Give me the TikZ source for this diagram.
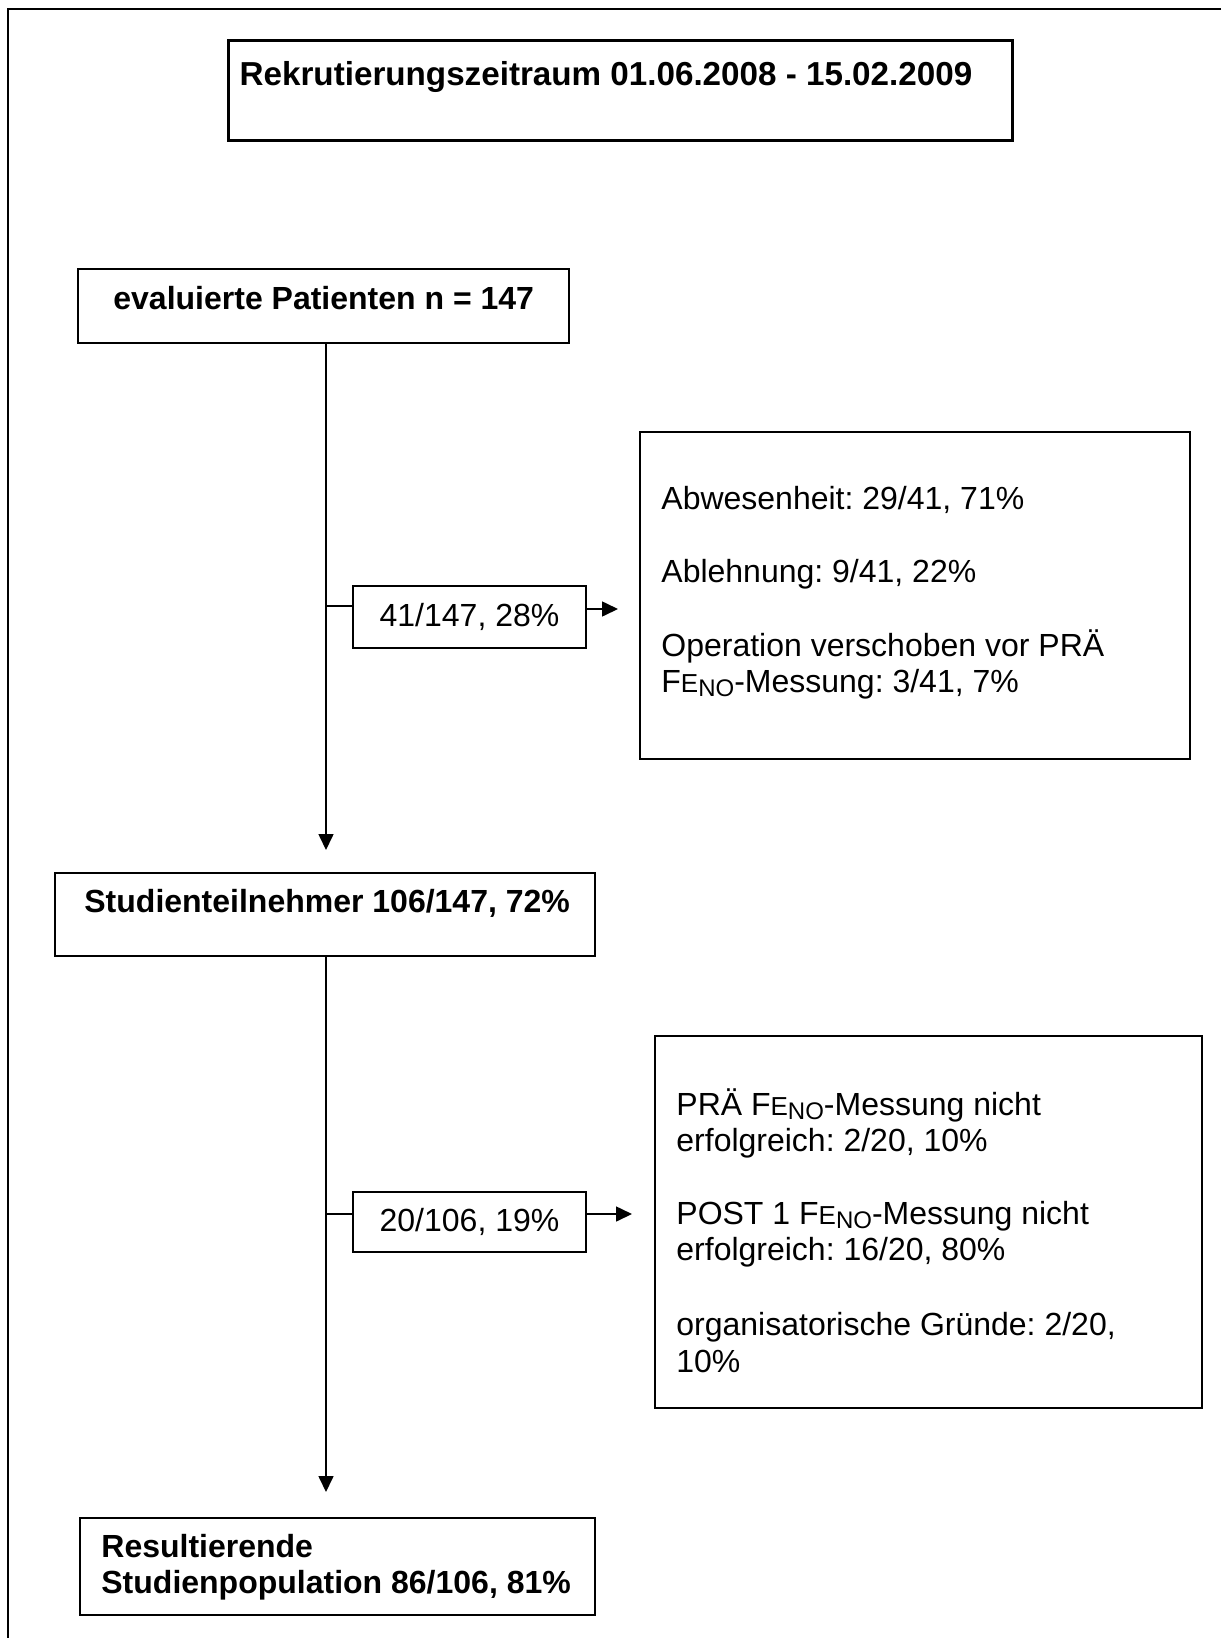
\documentclass[tikz,border=0pt]{standalone}
\usepackage{fontspec}
\setmainfont{Liberation Sans}
\usetikzlibrary{arrows.meta,calc}
\newcommand\feno{F{\fontsize{13}{13}\selectfont E}\raisebox{-2pt}{\fontsize{12}{12}\selectfont NO}}
\frenchspacing
\begin{document}
\begin{tikzpicture}[x=0.5pt,y=-0.5pt,
  box/.style={draw, line width=1pt, inner sep=0pt, rectangle},
  txt/.style={inner sep=0pt, anchor=base west, font=\fontsize{16}{18}\selectfont},
  btxt/.style={inner sep=0pt, anchor=base west, font=\fontsize{16}{18}\selectfont\bfseries},
  conn/.style={line width=0.8pt},
  arr/.style={line width=0.8pt, -{Triangle[length=8pt,width=7.5pt]}}]
\useasboundingbox (0,0) rectangle (1221,1638);
% outer frame (open at right and bottom)
\draw[line width=1pt] (1221,9) -- (8,9) -- (8,1638);
\coordinate (trunk) at (326,0);
% top box
\node[box, line width=1.5pt, minimum width={784*0.5pt}, minimum height={100*0.5pt}] (top) at (620,90) {};
\node[btxt, anchor=base, font=\fontsize{16.6}{18}\selectfont\bfseries] (toptxt) at (606,85) {Rekrutierungszeitraum 01.06.2008 - 15.02.2009};
% evaluated
\node[box, minimum width={491*0.5pt}, minimum height={74*0.5pt}] (eval) at (323.5,306) {};
\node[btxt] (evaltxt) at (113,309) {evaluierte Patienten n = 147};
% branch 1
\node[box, minimum width={233*0.5pt}, minimum height={62*0.5pt}, font=\fontsize{16}{18}\selectfont] (b1) at (469.5,617) {41/147, 28\%};
\node[box, minimum width={550*0.5pt}, minimum height={327*0.5pt}] (r1) at (915,595.5) {};
\node[txt] (r1a) at (661,509) {Abwesenheit: 29/41, 71\%};
\node[txt] (r1b) at (661,582) {Ablehnung: 9/41, 22\%};
\node[txt] (r1c) at (661,656) {Operation verschoben vor PRÄ};
\node[txt] (r1d) at (661,692) {\feno-Messung: 3/41, 7\%};
% participants
\node[box, minimum width={540*0.5pt}, minimum height={83*0.5pt}] (stud) at (325,914.5) {};
\node[btxt] (studtxt) at (84,912) {Studienteilnehmer 106/147, 72\%};
% branch 2
\node[box, minimum width={233*0.5pt}, minimum height={60*0.5pt}, font=\fontsize{16}{18}\selectfont] (b2) at (469.5,1222) {20/106, 19\%};
\node[box, minimum width={547*0.5pt}, minimum height={372*0.5pt}] (r2) at (928.5,1222) {};
\node[txt] (r2a) at (676,1115) {PRÄ \feno-Messung nicht};
\node[txt] (r2b) at (676,1151) {erfolgreich: 2/20, 10\%};
\node[txt] (r2c) at (676,1224) {POST 1 \feno-Messung nicht};
\node[txt] (r2d) at (676,1260) {erfolgreich: 16/20, 80\%};
\node[txt] (r2e) at (676,1335) {organisatorische Gründe: 2/20,};
\node[txt] (r2f) at (676,1372) {10\%};
% result
\node[box, minimum width={515*0.5pt}, minimum height={97*0.5pt}] (res) at (337.5,1566.5) {};
\node[btxt] (resa) at (101,1557) {Resultierende};
\node[btxt] (resb) at (101,1593) {Studienpopulation 86/106, 81\%};
% connectors
\draw[arr, shorten >=11pt] (eval.south -| trunk) -- (stud.north -| trunk);
\draw[arr, shorten >=12.5pt] (stud.south -| trunk) -- (res.north -| trunk);
\draw[conn] ($(b1.west -| trunk)+(0,-11)$) -- ($(b1.west)+(0,-11)$);
\coordinate (t1) at (618,609);
\draw[arr] ($(b1.east)+(0,-8)$) -- (t1);
\draw[conn] ($(b2.west -| trunk)+(0,-8)$) -- ($(b2.west)+(0,-8)$);
\coordinate (t2) at (632,1214);
\draw[arr] ($(b2.east)+(0,-8)$) -- (t2);
\end{tikzpicture}
\end{document}
